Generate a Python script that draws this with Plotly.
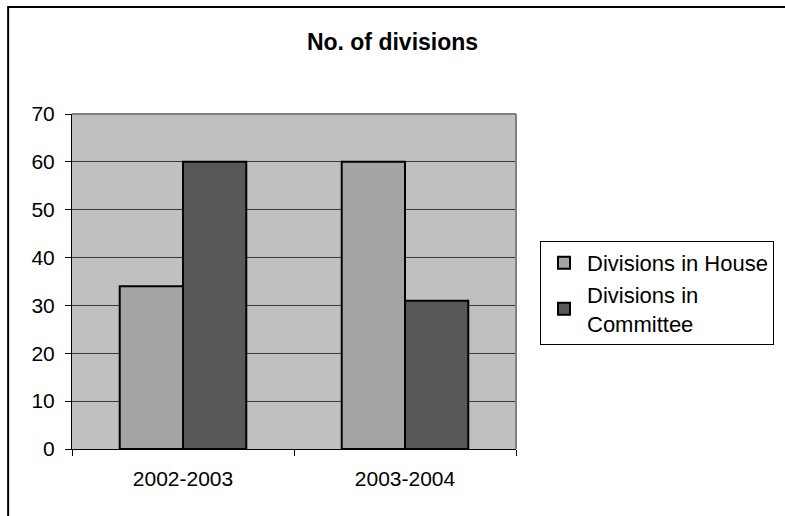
import plotly.graph_objects as go

# Chart data
years = ["2002-2003", "2003-2004"]
house_divisions = [34, 60]
committee_divisions = [60, 31]
y_ticks = [0, 10, 20, 30, 40, 50, 60, 70]

# Plot area in pixels
W, H = 785, 516
L, R, T, B = 72, 268, 114, 67
pw, ph = W - L - R, H - T - B

def px_x(p):
    return (p - L) / pw

def px_y(p):
    return (H - B - p) / ph

fig = go.Figure()
fig.add_trace(go.Bar(
    x=years, y=house_divisions, name="Divisions in House",
    marker=dict(color="#A5A5A5", line=dict(color="black", width=2)),
))
fig.add_trace(go.Bar(
    x=years, y=committee_divisions, name="Divisions in<br>Committee",
    marker=dict(color="#585858", line=dict(color="black", width=2)),
))

fig.update_layout(
    width=W, height=H,
    margin=dict(l=L, r=R, t=T, b=B),
    paper_bgcolor="white",
    plot_bgcolor="#C0C0C0",
    barmode="group",
    bargap=0.43,
    bargroupgap=0,
    font=dict(family="Liberation Sans, Arial, sans-serif", size=21, color="black"),
    title=dict(
        text="<b>No. of divisions</b>",
        x=0.5, xanchor="center", xref="container",
        y=1 - 42 / H, yanchor="middle", yref="container",
        font=dict(size=23, color="black"),
    ),
    showlegend=True,
    legend=dict(
        x=px_x(540), xanchor="left",
        y=px_y(241), yanchor="top",
        bgcolor="white",
        bordercolor="black", borderwidth=1,
        font=dict(size=22, color="black"),
        traceorder="normal",
        itemwidth=36,
    ),
    xaxis=dict(
        type="category",
        showgrid=False,
        showline=True, linecolor="black", linewidth=1,
        ticks="outside", ticklen=6, tickcolor="black",
        tickson="boundaries",
        ticklabelstandoff=11,
        fixedrange=True,
    ),
    yaxis=dict(
        range=[0, 70],
        tickvals=y_ticks,
        showgrid=True, gridcolor="#3a3a3a", gridwidth=1,
        zeroline=False,
        showline=True, linecolor="black", linewidth=1,
        ticks="outside", ticklen=6, tickcolor="black",
        ticklabelstandoff=6,
        fixedrange=True,
    ),
    shapes=[
        # gray frame on top and right of the plot area
        dict(type="line", xref="paper", yref="paper", x0=0, x1=1, y0=1, y1=1,
             line=dict(color="#808080", width=2), layer="above"),
        dict(type="line", xref="paper", yref="paper", x0=1, x1=1, y0=0, y1=1,
             line=dict(color="#808080", width=2), layer="above"),
        # outer chart border
        dict(type="rect", xref="paper", yref="paper",
             x0=px_x(8), x1=px_x(W + 10), y0=px_y(H + 10), y1=px_y(7),
             line=dict(color="black", width=2), fillcolor="rgba(0,0,0,0)",
             layer="above"),
    ],
)

fig.write_html("out.html")
